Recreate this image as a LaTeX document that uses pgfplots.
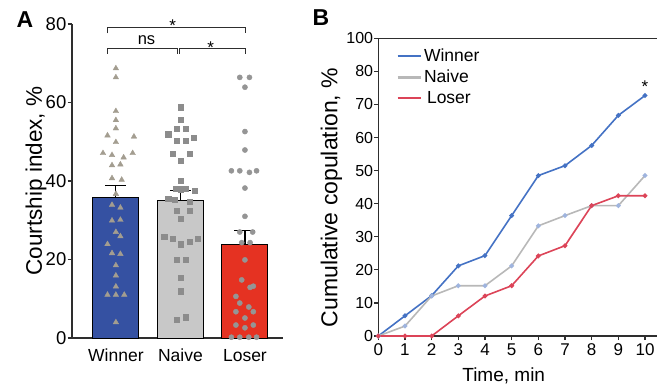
\documentclass[border=0pt]{standalone}
\usepackage{pgfplots}
\pgfplotsset{compat=1.18}
\usepackage{fontspec}
\setmainfont{Liberation Sans}
\definecolor{axc}{HTML}{2E2E2E}
\definecolor{wbar}{HTML}{3551A2}
\definecolor{nbar}{HTML}{C8C8C8}
\definecolor{lbar}{HTML}{E53222}
\definecolor{tri}{HTML}{A39D90}
\definecolor{sq}{HTML}{8C8C8C}
\definecolor{cir}{HTML}{959595}
\definecolor{wline}{HTML}{4472C4}
\definecolor{nline}{HTML}{B8B8B8}
\definecolor{lline}{HTML}{DC4458}
\definecolor{dotc}{HTML}{9FB4DE}
\begin{document}
\begin{tikzpicture}[x=1pt,y=1pt]
\useasboundingbox (0,0) rectangle (658,388);
\node[font=\fontsize{23}{25}\selectfont\bfseries, anchor=center] at (25,368.5) {A};
\node[font=\fontsize{23}{25}\selectfont\bfseries, anchor=center] at (321,370) {B};
% ---------------- Panel A
\begin{axis}[
  at={(72pt,50pt)}, anchor=south west,
  scale only axis, width=211pt, height=314pt,
  xmin=-0.68, xmax=2.59, ymin=0, ymax=80,
  axis x line=bottom, axis y line=left,
  axis line style={line width=1.2pt, color=axc, -},
  ytick={0,20,40,60,80},
  xtick={0,1,2}, xticklabels={Winner,Naive,Loser},
  x tick style={draw=none},
  y tick style={line width=1.2pt, color=axc},
  tick align=outside, major tick length=4.5pt,
  /pgf/number format/assume math mode=true,
  yticklabel style={font=\fontsize{18.5}{20}\selectfont, inner sep=1pt},
  xticklabel style={font=\fontsize{17.5}{20}\selectfont, yshift=-3pt},
  ylabel={Courtship index, \%},
  every axis y label/.style={at={(axis description cs:-0.17,0.5)}, rotate=90, anchor=center, font=\fontsize{22.5}{24}\selectfont},
  clip=false,
]
\addplot[ybar, bar width=46pt, bar shift=0pt, fill=wbar, draw=black, line width=1pt,
  error bars/.cd, y dir=plus, y explicit,
  error bar style={line width=1.2pt, black},
  error mark options={rotate=90, mark size=10.5pt, line width=1.2pt, black}]
  coordinates {(0,35.8) +- (0,3.0)};
\addplot[ybar, bar width=46pt, bar shift=0pt, fill=nbar, draw=black, line width=1pt,
  error bars/.cd, y dir=plus, y explicit,
  error bar style={line width=1.2pt, black},
  error mark options={rotate=90, mark size=10.5pt, line width=1.2pt, black}]
  coordinates {(1,35.1) +- (0,2.4)};
\addplot[ybar, bar width=46pt, bar shift=0pt, fill=lbar, draw=black, line width=1pt,
  error bars/.cd, y dir=plus, y explicit,
  error bar style={line width=1.2pt, black},
  error mark options={rotate=90, mark size=10.5pt, line width=1.2pt, black}]
  coordinates {(2,23.7) +- (0,3.6)};
\addplot[only marks, mark=triangle*, mark size=3.2pt, color=tri] coordinates {
 (0,68.7) (0,66.4) (0,57.8) (0,55.5) (0,53.4) (-0.13,51.6) (0.28,51.3) (0,49.9)
 (-0.2,47.1) (0.26,47.1) (-0.06,46.6) (0.12,46.0) (-0.06,44.0) (0.07,44.2)
 (-0.06,40.7) (0.09,40.3) (0,36.7) (-0.06,33.9) (0.07,33.2) (-0.06,29.9) (0.07,30.1)
 (0,27.0) (0.07,25.9) (-0.13,23.9) (-0.06,21.6) (0.07,21.4) (0,18.5) (0,15.9)
 (0,13.1) (-0.13,11.0) (0,11.0) (0.13,11.0) (0,4.0)};
\addplot[only marks, mark=square*, mark size=2.6pt, color=sq] coordinates {
 (1,58.8) (1,55.7) (0.94,53.4) (1.08,53.4) (0.81,51.9) (1.2,51.1) (0.94,50.3) (1.08,50.3)
 (0.88,46.9) (1.14,46.9) (1,45.2) (1,40) (0.93,38) (1.08,38) (1.22,37.6) (1,37.9)
 (0.81,35.4) (0.91,35.2) (1.14,34.8) (0.94,32.5) (1.14,32.5) (1,30.4)
 (0.75,25.9) (0.88,25.2) (1,23.9) (1.14,24.6) (1.27,25.2) (0.94,19.9) (1.08,19.9)
 (1,15.4) (1,11.9) (0.94,4.7) (1.08,5.3)};
\addplot[only marks, mark=*, mark size=2.6pt, color=cir] coordinates {
 (1.92,66.4) (2.07,66.4) (2,63.9) (2,52.6) (2,47.9) (1.79,42.6) (1.92,42.6) (2.07,42.2)
 (2.18,42.6) (2,38.2) (2,31) (1.92,27) (2.12,27) (1.95,24.3) (2.08,24.3) (2,19.9)
 (1.95,14.8) (2.08,12.9) (2.13,13.2) (1.86,10.6) (1.92,8.9) (2.06,7.9) (1.86,6.7)
 (2.13,6.7) (2,5.1) (1.86,3.3) (2.13,3.3) (2,2.6) (1.79,0.2) (1.92,0.2) (2.06,0.2) (2.18,0.2)};
\draw[line width=0.9pt, axc] (axis cs:-0.13,77.6) -- (axis cs:-0.13,79) -- (axis cs:2.01,79) -- (axis cs:2.01,77.6);
\draw[line width=0.9pt, axc] (axis cs:-0.13,72.4) -- (axis cs:-0.13,73.8) -- (axis cs:0.95,73.8) -- (axis cs:0.95,72.4);
\draw[line width=0.9pt, axc] (axis cs:0.99,72.4) -- (axis cs:0.99,73.8) -- (axis cs:2.01,73.8) -- (axis cs:2.01,72.4);
\node[font=\fontsize{16.5}{18}\selectfont, anchor=base] at (axis cs:0.475,74.7) {ns};
\node[font=\fontsize{17}{18}\selectfont, anchor=center] at (axis cs:1.47,74.0) {*};
\node[font=\fontsize{17}{18}\selectfont, anchor=center] at (axis cs:0.88,79.6) {*};
\end{axis}
% ---------------- Panel B
\begin{axis}[
  at={(378.3pt,52pt)}, anchor=south west,
  scale only axis, width=278.7pt, height=297.7pt,
  xmin=0, xmax=10.45, ymin=0, ymax=90,
  axis x line=bottom, axis y line=left,
  axis line style={line width=1.2pt, color=axc, -},
  xtick={0,1,...,10},
  ytick={0,10,20,30,40,50,60,70,80,90},
  yticklabels={0,10,20,30,40,50,60,70,80,100},
  tick style={line width=1.2pt, color=axc},
  tick align=outside, major tick length=4pt,
  /pgf/number format/assume math mode=true,
  yticklabel style={font=\fontsize{16}{18}\selectfont, inner sep=1pt},
  xticklabel style={font=\fontsize{17}{19}\selectfont},
  xlabel={Time, min},
  ylabel={Cumulative copulation, \%},
  every axis x label/.style={at={(axis description cs:0.45,0)}, yshift=-28pt, anchor=north, font=\fontsize{19}{21}\selectfont},
  every axis y label/.style={at={(axis description cs:-0.168,0.465)}, rotate=90, anchor=center, font=\fontsize{23}{25}\selectfont},
  legend style={at={(rel axis cs:0.06,0.975)}, anchor=north west, draw=none, fill=none,
    font=\fontsize{17.5}{19}\selectfont, row sep=3pt, inner sep=1pt},
  legend cell align=left,
  legend image code/.code={\draw[#1, line width=2.8pt] (0pt,0pt) -- (23pt,0pt);},
  clip=false,
]
\draw[line width=1.2pt, axc] (rel axis cs:0,1) -- (rel axis cs:1,1);
\addplot[color=wline, line width=1.6pt, mark=*, mark size=1.5pt, mark options={fill=wline!70!white, draw=wline}] coordinates {
 (0,0) (1,6.1) (2,12.2) (3,21.2) (4,24.3) (5,36.4) (6,48.5) (7,51.5) (8,57.6) (9,66.7) (10,72.7)};
\addlegendentry{Winner}
\addplot[color=nline, line width=1.6pt, mark=*, mark size=1.5pt, mark options={fill=dotc!60!white, draw=dotc}] coordinates {
 (0,0) (1,3.0) (2,12.1) (3,15.2) (4,15.2) (5,21.2) (6,33.3) (7,36.4) (8,39.4) (9,39.4) (10,48.5)};
\addlegendentry{Naive}
\addplot[color=lline, line width=1.6pt, mark=*, mark size=1.5pt, mark options={fill=dotc, draw=lline}] coordinates {
 (0,0) (1,0) (2,0) (3,6.1) (4,12.1) (5,15.2) (6,24.2) (7,27.3) (8,39.4) (9,42.4) (10,42.4)};
\addlegendentry{\hspace{3pt}Loser}
\node[font=\fontsize{17}{18}\selectfont, anchor=center] at (axis cs:10,75.5) {*};
\end{axis}
\end{tikzpicture}
\end{document}
